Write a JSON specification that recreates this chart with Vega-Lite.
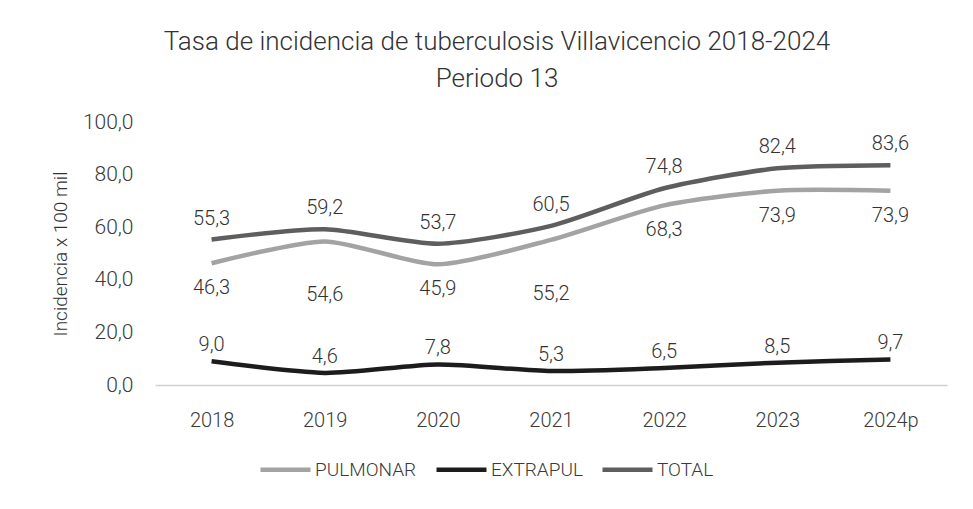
{
  "$schema": "https://vega.github.io/schema/vega-lite/v6.json",
  "width": 792,
  "height": 263,
  "autosize": {"type": "none"},
  "padding": {"left": 155, "top": 122, "right": 26, "bottom": 124},
  "background": "white",
  "config": {
    "locale": {"number": {"decimal": ",", "thousands": ".", "grouping": [3], "currency": ["", ""]}},
    "view": {"stroke": null},
    "font": "Roboto, sans-serif",
    "text": {"fontWeight": 300}
  },
  "title": {
    "text": ["Tasa de incidencia de tuberculosis Villavicencio 2018-2024", "Periodo 13"],
    "anchor": "middle",
    "frame": "group",
    "dx": -54,
    "offset": 19,
    "fontSize": 26,
    "fontWeight": 300,
    "color": "#333333",
    "lineHeight": 37,
    "font": "Roboto, sans-serif"
  },
  "data": {
    "values": [
      {"year": "2018", "series": "PULMONAR", "value": 46.3},
      {"year": "2019", "series": "PULMONAR", "value": 54.6},
      {"year": "2020", "series": "PULMONAR", "value": 45.9},
      {"year": "2021", "series": "PULMONAR", "value": 55.2},
      {"year": "2022", "series": "PULMONAR", "value": 68.3},
      {"year": "2023", "series": "PULMONAR", "value": 73.9},
      {"year": "2024p", "series": "PULMONAR", "value": 73.9},
      {"year": "2018", "series": "EXTRAPUL", "value": 9.0},
      {"year": "2019", "series": "EXTRAPUL", "value": 4.6},
      {"year": "2020", "series": "EXTRAPUL", "value": 7.8},
      {"year": "2021", "series": "EXTRAPUL", "value": 5.3},
      {"year": "2022", "series": "EXTRAPUL", "value": 6.5},
      {"year": "2023", "series": "EXTRAPUL", "value": 8.5},
      {"year": "2024p", "series": "EXTRAPUL", "value": 9.7},
      {"year": "2018", "series": "TOTAL", "value": 55.3},
      {"year": "2019", "series": "TOTAL", "value": 59.2},
      {"year": "2020", "series": "TOTAL", "value": 53.7},
      {"year": "2021", "series": "TOTAL", "value": 60.5},
      {"year": "2022", "series": "TOTAL", "value": 74.8},
      {"year": "2023", "series": "TOTAL", "value": 82.4},
      {"year": "2024p", "series": "TOTAL", "value": 83.6}
    ]
  },
  "encoding": {
    "x": {
      "field": "year",
      "type": "ordinal",
      "sort": null,
      "scale": {"type": "point", "padding": 0.5},
      "axis": {
        "title": null,
        "labelAngle": 0,
        "ticks": false,
        "domainColor": "#d0d0d0",
        "domainWidth": 1.5,
        "labelPadding": 25,
        "labelFontSize": 20,
        "labelFontWeight": 300,
        "labelColor": "#3a3a3a",
        "grid": false
      }
    },
    "y": {
      "field": "value",
      "type": "quantitative",
      "scale": {"domain": [0, 100], "nice": false},
      "axis": {
        "title": "Incidencia x 100 mil",
        "titleFontSize": 19,
        "titleFontWeight": 300,
        "titleColor": "#333333",
        "titlePadding": 12,
        "values": [0, 20, 40, 60, 80, 100],
        "format": ".1f",
        "domain": false,
        "ticks": false,
        "grid": false,
        "labelPadding": 22,
        "labelFontSize": 21,
        "labelFontWeight": 300,
        "labelColor": "#3a3a3a"
      }
    }
  },
  "layer": [
    {
      "mark": {"type": "line", "strokeWidth": 4.5, "interpolate": "cardinal", "tension": 0.3},
      "encoding": {
        "color": {
          "field": "series",
          "type": "nominal",
          "scale": {"domain": ["PULMONAR", "EXTRAPUL", "TOTAL"], "range": ["#a3a3a3", "#1c1c1c", "#5e5e5e"]},
          "legend": {
            "title": null,
            "orient": "none",
            "direction": "horizontal",
            "legendX": 103,
            "legendY": 320,
            "symbolType": "stroke",
            "symbolStrokeWidth": 4.5,
            "symbolSize": 2500,
            "labelFontSize": 19,
            "labelFontWeight": 300,
            "labelColor": "#3a3a3a",
            "labelOffset": 2,
            "columnPadding": 10
          }
        }
      }
    },
    {
      "transform": [{"filter": "datum.series === 'TOTAL'"}],
      "mark": {"type": "text", "dy": -21, "fontSize": 20, "color": "#333333"},
      "encoding": {"text": {"field": "value", "type": "quantitative", "format": ".1f"}}
    },
    {
      "transform": [{"filter": "datum.series === 'EXTRAPUL'"}],
      "mark": {"type": "text", "dy": -16, "fontSize": 20, "color": "#333333"},
      "encoding": {"text": {"field": "value", "type": "quantitative", "format": ".1f"}}
    },
    {
      "transform": [{"filter": "datum.series === 'PULMONAR' && datum.year !== '2019' && datum.year !== '2021'"}],
      "mark": {"type": "text", "dy": 25, "fontSize": 20, "color": "#333333"},
      "encoding": {"text": {"field": "value", "type": "quantitative", "format": ".1f"}}
    },
    {
      "transform": [{"filter": "datum.series === 'PULMONAR' && (datum.year === '2019' || datum.year === '2021')"}],
      "mark": {"type": "text", "dy": 54, "fontSize": 20, "color": "#333333"},
      "encoding": {"text": {"field": "value", "type": "quantitative", "format": ".1f"}}
    }
  ]
}
